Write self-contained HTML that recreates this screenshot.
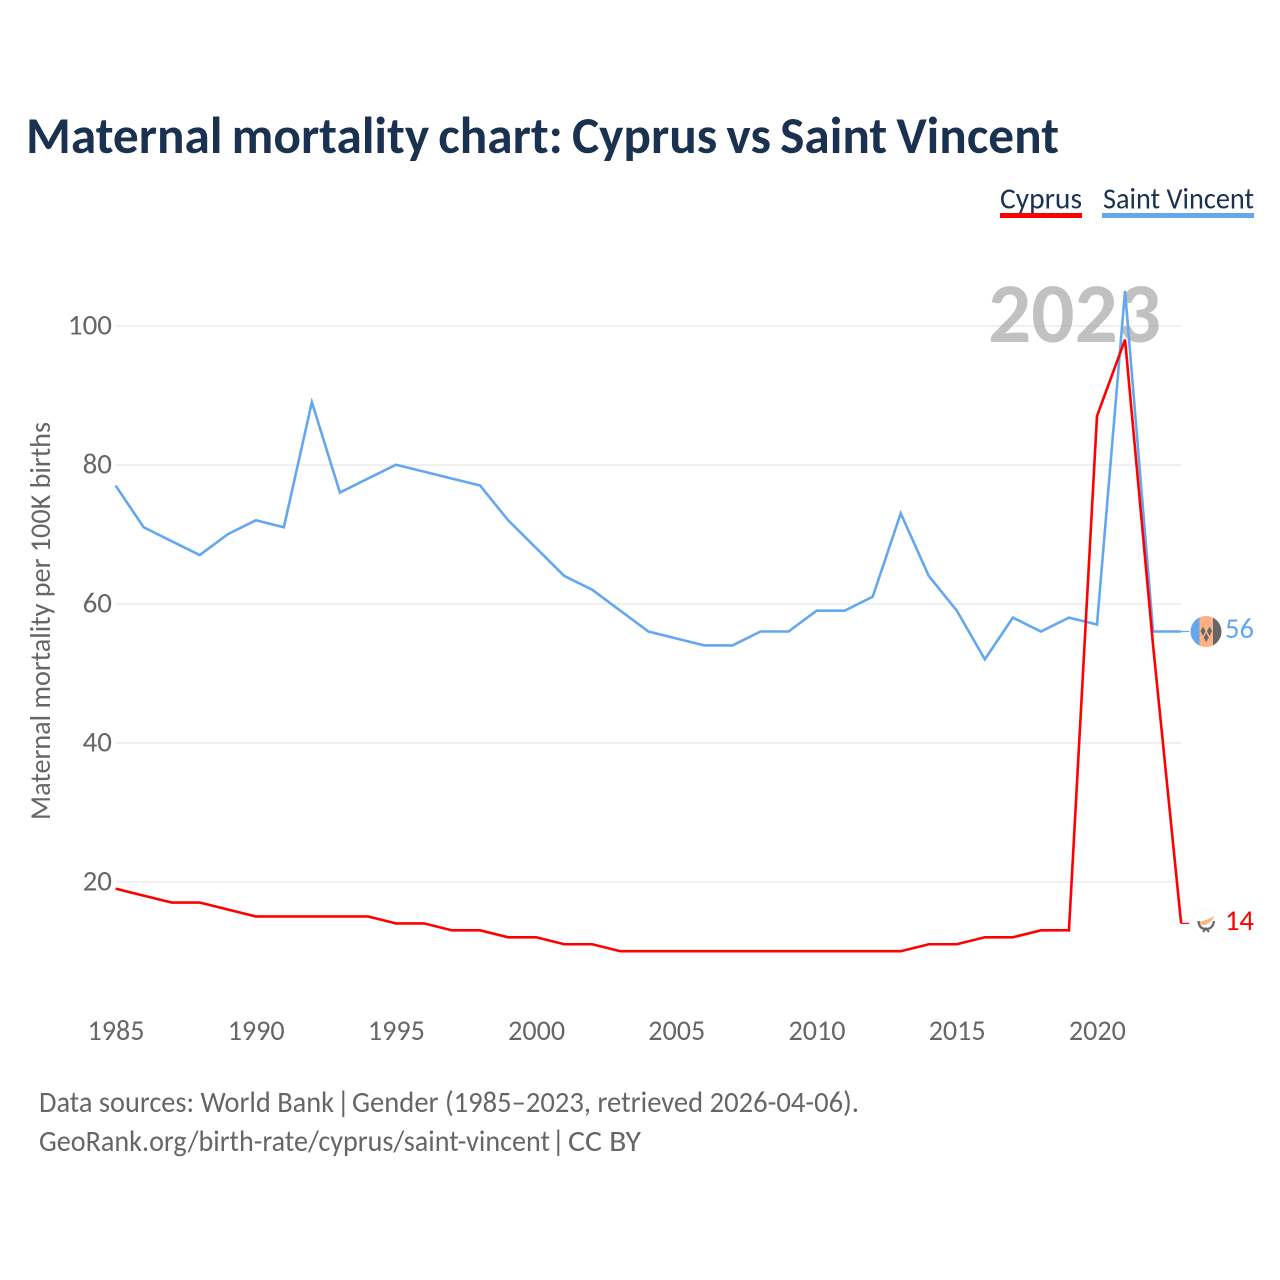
<!DOCTYPE html>
<html>
<head>
<meta charset="utf-8">
<style>
html,body{margin:0;padding:0;background:#fff;}
svg{display:block;}
text{font-family:"Carlito","Lato","Liberation Sans",sans-serif;}
</style>
</head>
<body>
<svg id="chart" width="1280" height="1280" viewBox="0 0 1280 1280" xmlns="http://www.w3.org/2000/svg">
<rect width="1280" height="1280" fill="#fff"/>
<text x="26" y="153" font-size="52" font-weight="700" fill="#1a3150" word-spacing="-2.5" textLength="1033" lengthAdjust="spacingAndGlyphs">Maternal mortality chart: Cyprus vs Saint Vincent</text>
<g id="grid"></g>
<text x="1074.5" y="342" text-anchor="middle" font-size="85" font-weight="700" fill="#a6a6a6" fill-opacity="0.7" textLength="173" lengthAdjust="spacingAndGlyphs">2023</text>
<g id="yticks"></g>
<g id="xticks"></g>
<text transform="translate(50,621) rotate(-90)" text-anchor="middle" font-size="29" fill="#666" textLength="398" lengthAdjust="spacingAndGlyphs">Maternal mortality per 100K births</text>
<g id="series"></g>
<g>
  <clipPath id="sv-clip"><circle cx="1206" cy="631.5" r="15.5"/></clipPath>
  <g clip-path="url(#sv-clip)">
    <rect x="1190" y="615" width="9.5" height="33" fill="#63a7ee"/>
    <rect x="1199.5" y="615" width="13.5" height="33" fill="#ffb183"/>
    <rect x="1213" y="615" width="9" height="33" fill="#666"/>
    <polygon points="1203,626.5 1205.5,631 1203,636 1200.5,631" fill="#666"/>
    <polygon points="1209.5,626.5 1212,631 1209.5,636 1207,631" fill="#666"/>
    <polygon points="1206.2,633 1208.7,637.5 1206.2,642 1203.7,637.5" fill="#666"/>
  </g>
</g>
<g>
  <circle cx="1206" cy="923" r="14.5" fill="#fff" stroke="#eee" stroke-width="1" stroke-dasharray="1 2"/>
  <path d="M1197.5 922 Q1206 921 1214.5 916 Q1212 922 1205 925 Q1200 925 1197.5 922 Z" fill="#ffb183"/>
  <path d="M1198.5 921 Q1199 929 1206 929 Q1213 929 1214 921" fill="none" stroke="#666" stroke-width="2.2"/>
  <path d="M1203 932 L1206 928.5 L1209 932" fill="none" stroke="#666" stroke-width="2"/>
</g>
<text x="1225" y="638" font-size="29" fill="#63a7ee" textLength="29" lengthAdjust="spacingAndGlyphs">56</text>
<text x="1225" y="930" font-size="29" fill="#ff0000" textLength="29" lengthAdjust="spacingAndGlyphs">14</text>
<g>
  <text x="1000" y="208.5" font-size="30" fill="#1a3150" textLength="82" lengthAdjust="spacingAndGlyphs">Cyprus</text>
  <rect x="1000" y="213" width="82" height="5" fill="#ff0000"/>
</g>
<g>
  <text x="1103" y="208.5" font-size="30" fill="#1a3150" textLength="151" lengthAdjust="spacingAndGlyphs">Saint Vincent</text>
  <rect x="1102" y="213" width="152" height="5" fill="#63a7ee"/>
</g>
<text y="1112" font-size="29.5" fill="#666"><tspan x="39" textLength="295" lengthAdjust="spacingAndGlyphs">Data sources: World Bank</tspan><tspan x="336.5">|</tspan><tspan x="352" textLength="507" lengthAdjust="spacingAndGlyphs">Gender (1985–2023, retrieved 2026-04-06).</tspan></text>
<text y="1151" font-size="29.5" fill="#666"><tspan x="39" textLength="511" lengthAdjust="spacingAndGlyphs">GeoRank.org/birth-rate/cyprus/saint-vincent</tspan><tspan x="551.5">|</tspan><tspan x="568" textLength="73" lengthAdjust="spacingAndGlyphs">CC BY</tspan></text>
</svg>
<script>
const years = [1985,1986,1987,1988,1989,1990,1991,1992,1993,1994,1995,1996,1997,1998,1999,2000,2001,2002,2003,2004,2005,2006,2007,2008,2009,2010,2011,2012,2013,2014,2015,2016,2017,2018,2019,2020,2021,2022,2023];
const cyprusValues = [19,18,17,17,16,15,15,15,15,15,14,14,13,13,12,12,11,11,10,10,10,10,10,10,10,10,10,10,10,11,11,12,12,13,13,87,98,54,14];
const saintVincentValues = [77,71,69,67,70,72,71,89,76,78,80,79,78,77,72,68,64,62,59,56,55,54,54,56,56,59,59,61,73,64,59,52,58,56,58,57,105,56,56];
const yTickValues = [20,40,60,80,100];
const xTickValues = [1985,1990,1995,2000,2005,2010,2015,2020];

const NS = 'http://www.w3.org/2000/svg';
function xScale(year){ return 115.6 + (year - 1985) * 28.04; }
function yScale(value){ return 325.7 + (100 - value) * 6.95; }
function make(tag, attrs, parent){
  const el = document.createElementNS(NS, tag);
  for (const k in attrs) el.setAttribute(k, attrs[k]);
  parent.appendChild(el);
  return el;
}
const grid = document.getElementById('grid');
const yticks = document.getElementById('yticks');
const xticks = document.getElementById('xticks');
const series = document.getElementById('series');

yTickValues.forEach(function(v){
  const line = make('line', {x1:116, x2:1181, y1:yScale(v) + 0.3, y2:yScale(v) + 0.3, stroke:'#ebebeb', 'stroke-width':1.5}, grid);
  
  
  const t = make('text', {x:112, y:yScale(v) + 8.8, 'text-anchor':'end', 'font-size':29, fill:'#666'}, yticks);
  
  
  t.textContent = v;
});
xTickValues.forEach(function(v){
  const t = make('text', {x:xScale(v) + 0.4, y:1040, 'text-anchor':'middle', 'font-size':29, fill:'#666', textLength:57, lengthAdjust:'spacingAndGlyphs'}, xticks);
  
  
  t.textContent = v;
});
function pathFor(values){
  return values.map(function(v,i){ return (i ? 'L' : 'M') + xScale(years[i]).toFixed(2) + ' ' + yScale(v).toFixed(2); }).join(' ');
}
function endConnector(values, color, name){
  const last = values[values.length - 1];
  const c = make('line', {x1:xScale(years[years.length-1]), x2:xScale(years[years.length-1]) + 8, y1:yScale(last), y2:yScale(last), stroke:color, 'stroke-width':1.2}, series);
  
  
}
const svLine = make('path', {d:pathFor(saintVincentValues), fill:'none', stroke:'#63a7ee', 'stroke-width':2.6, 'stroke-linejoin':'miter'}, series);


const cyprusLine = make('path', {d:pathFor(cyprusValues), fill:'none', stroke:'#ff0000', 'stroke-width':2.6, 'stroke-linejoin':'miter'}, series);


endConnector(cyprusValues, '#ff0000', 'cyprus-end-connector');
endConnector(saintVincentValues, '#63a7ee', 'saint-vincent-end-connector');
</script>
</body>
</html>
